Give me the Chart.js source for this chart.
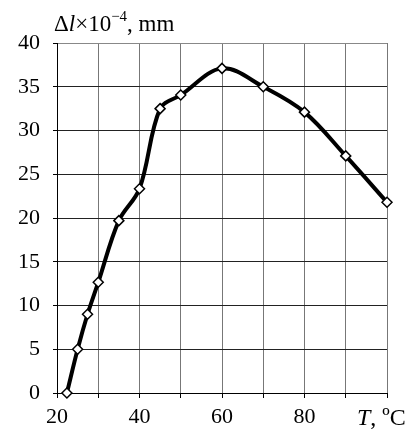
<!DOCTYPE html>
<html>
<head>
<meta charset="utf-8">
<script src="https://cdn.jsdelivr.net/npm/chart.js@4"></script>
<style>
  html, body { margin: 0; padding: 0; background: #fff; }
  #wrap { position: relative; width: 408px; height: 430px; }
  canvas { position: absolute; left: 0; top: 0; }
  .lbl { position: absolute; font-family: "Liberation Serif", "Times New Roman", serif; color: #000; white-space: nowrap; line-height: 1; }
  .lbl sup { font-size: 0.65em; position: relative; top: -0.1em; vertical-align: super; line-height: 0; }
</style>
</head>
<body>
<div id="wrap">
  <canvas id="c" width="408" height="430"></canvas>
  <div class="lbl" id="ytitle" style="left:54px; top:12px; font-size:23px;">Δ<i>l</i>×10<sup>−4</sup>, mm</div>
  <div class="lbl" id="xtitle" style="left:357px; top:405px; font-size:24px;"><i>T</i>, ºC</div>
</div>
<script>
const temperatures = [22.4, 25, 27.4, 30, 35, 40, 45, 50, 60, 70, 80, 90, 100];
const elongation = [0, 5.0, 9.0, 12.65, 19.7, 23.35, 32.5, 34.05, 37.1, 35.0, 32.1, 27.1, 21.8];
const xTickLabels = {20: '20', 40: '40', 60: '60', 80: '80'};
const yTicks = [0, 5, 10, 15, 20, 25, 30, 35, 40];

const points = temperatures.map((t, i) => ({x: t, y: elongation[i]}));

new Chart(document.getElementById('c'), {
  type: 'line',
  data: {
    datasets: [{
      data: points,
      borderColor: '#000',
      borderWidth: 4,
      tension: 0.35,
      pointStyle: 'rectRot',
      pointRadius: 5,
      pointBackgroundColor: '#fff',
      pointBorderColor: '#000',
      pointBorderWidth: 1.5,
      clip: false
    }]
  },
  options: {
    responsive: false,
    animation: false,
    devicePixelRatio: 1,
    layout: { padding: { left: 0, top: 43, right: 21, bottom: 0 } },
    plugins: { legend: { display: false }, tooltip: { enabled: false } },
    scales: {
      x: {
        type: 'linear',
        min: 20, max: 100,
        afterFit: s => { s.height = 37; },
        ticks: {
          stepSize: 10,
          autoSkip: false,
          maxRotation: 0,
          padding: 6,
          color: '#000',
          font: { family: 'Liberation Serif', size: 22 },
          callback: v => xTickLabels[v] || ''
        },
        grid: {
          color: '#777',
          lineWidth: 1,
          tickLength: 5,
          tickColor: '#000'
        },
        border: { color: '#000', width: 1 }
      },
      y: {
        min: 0, max: 40,
        afterFit: s => { s.width = 57; },
        afterBuildTicks: s => { s.ticks = yTicks.map(v => ({value: v})); },
        ticks: {
          padding: 13,
          color: '#000',
          font: { family: 'Liberation Serif', size: 22 }
        },
        grid: {
          color: ctx => (ctx.tick && ctx.tick.value === 40) ? '#888' : '#222',
          lineWidth: 1,
          tickLength: 4,
          tickColor: '#000'
        },
        border: { color: '#000', width: 1 }
      }
    }
  }
});
</script>
</body>
</html>
